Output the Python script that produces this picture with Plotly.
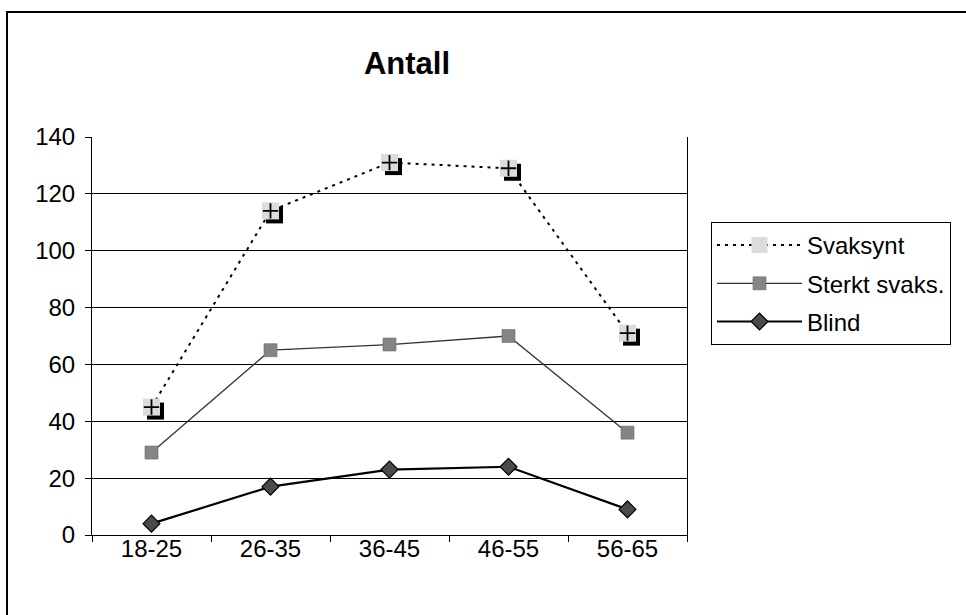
import plotly.graph_objects as go

categories = ["18-25", "26-35", "36-45", "46-55", "56-65"]
svaksynt = [45, 114, 131, 129, 71]
sterkt_svaks = [29, 65, 67, 70, 36]
blind = [4, 17, 23, 24, 9]
y_ticks = [0, 20, 40, 60, 80, 100, 120, 140]

FONT = "Liberation Sans, Arial, sans-serif"

fig = go.Figure()

# Blind
fig.add_trace(go.Scatter(
    x=categories, y=blind, name="Blind", mode="lines+markers",
    line=dict(color="black", width=2.2),
    marker=dict(symbol="diamond", size=13, color="#4a4a4a", line=dict(color="black", width=1.2)),
    legendgroup="c", legendrank=3,
))
# Sterkt svaks.
fig.add_trace(go.Scatter(
    x=categories, y=sterkt_svaks, name="Sterkt svaks.", mode="lines+markers",
    line=dict(color="#333333", width=1.3),
    marker=dict(symbol="square", size=13, color="#858585", line=dict(color="#6a6a6a", width=0.6)),
    legendgroup="b", legendrank=2,
))
# Svaksynt shadow (on shifted overlay axes)
fig.add_trace(go.Scatter(
    x=categories, y=svaksynt, mode="markers", showlegend=False,
    marker=dict(symbol="square", size=17, color="black"),
    xaxis="x2", yaxis="y2", hoverinfo="skip",
))
# Svaksynt
fig.add_trace(go.Scatter(
    x=categories, y=svaksynt, name="Svaksynt", mode="lines+markers",
    line=dict(color="black", width=2, dash="3px,5px"),
    marker=dict(symbol="square", size=17, color="#dcdcdc", line=dict(width=0)),
    xaxis="x3", yaxis="y3", legendgroup="a", legendrank=1,
))
fig.add_trace(go.Scatter(
    x=categories, y=svaksynt, mode="markers", showlegend=False,
    marker=dict(symbol="cross-thin", size=11, color="black", line=dict(color="black", width=1.8)),
    xaxis="x3", yaxis="y3", hoverinfo="skip",
))

xr = [-0.5, 4.5]
yr = [0, 140]
dx = 4 / 119.0
dy = 4 / (398 / 140.0)

fig.update_layout(
    width=966, height=615,
    margin=dict(l=92, r=279, t=137, b=80, autoexpand=False),
    paper_bgcolor="white", plot_bgcolor="white",
    font=dict(family=FONT, size=24, color="black"),
    title=dict(text="<b>Antall</b>", x=407 / 966, xanchor="center", y=1 - 63 / 615,
               yanchor="middle", font=dict(family=FONT, size=31, color="black")),
    xaxis=dict(type="category", range=xr, tickson="boundaries", ticks="outside", ticklen=6,
               tickcolor="black", showline=True, linecolor="black", linewidth=1,
               showgrid=False, tickfont=dict(size=24), ticklabelstandoff=-8),
    yaxis=dict(range=yr, tickvals=y_ticks, ticks="outside", ticklen=6, tickcolor="black",
               showline=True, linecolor="black", linewidth=1, mirror=True,
               showgrid=True, gridcolor="black", gridwidth=1, zeroline=False,
               tickfont=dict(size=24), ticklabelstandoff=5),
    xaxis2=dict(type="category", overlaying="x", range=[xr[0] - dx, xr[1] - dx], visible=False),
    yaxis2=dict(overlaying="y", range=[yr[0] + dy, yr[1] + dy], visible=False),
    xaxis3=dict(type="category", overlaying="x", range=xr, visible=False),
    yaxis3=dict(overlaying="y", range=yr, visible=False),
    showlegend=True,
    legend=dict(x=(711 - 92) / 595, xanchor="left", y=(535 - 222) / 398, yanchor="top",
                bordercolor="black", borderwidth=1, bgcolor="white",
                font=dict(family=FONT, size=24, color="black"),
                itemwidth=85, tracegroupgap=4, itemclick=False),
    shapes=[dict(type="rect", xref="paper", yref="paper",
                 x0=(7 - 92) / 595, x1=1.6, y0=-0.4, y1=(535 - 12) / 398,
                 line=dict(color="black", width=2), fillcolor="rgba(0,0,0,0)", layer="below")],
)

fig.write_html("out.html")
